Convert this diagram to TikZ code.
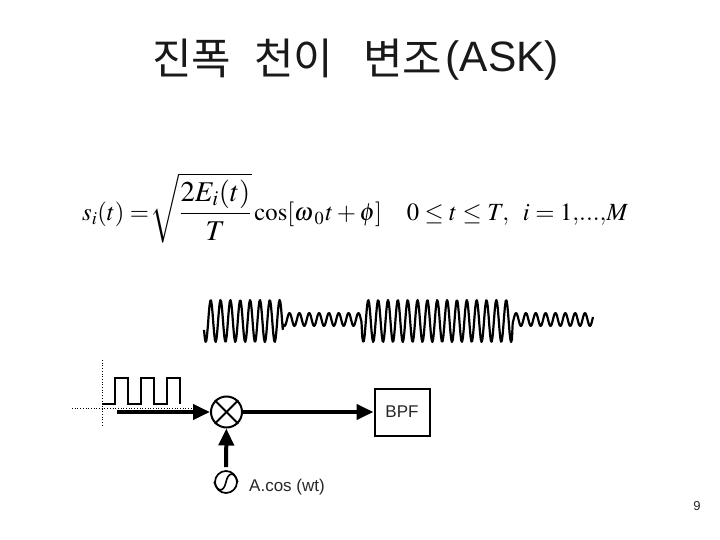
\documentclass[tikz,border=0pt]{standalone}
\usepackage{amsmath}
\usepackage{mathptmx}
\usepackage{fontspec}
\setmainfont{Liberation Sans}
\newfontfamily\cjk{Noto Sans CJK KR}
\usetikzlibrary{arrows.meta}
\begin{document}
\begin{tikzpicture}[
  x=1pt, y=-1pt,
  mixer/.style={circle, draw, line width=2pt, minimum size=31pt, inner sep=0pt},
  osc/.style={circle, draw, line width=1.7pt, minimum size=22pt, inner sep=0pt},
  filter/.style={rectangle, draw, line width=2pt, minimum width=55pt, minimum height=47pt, inner sep=0pt},
  link/.style={line width=4pt, -{Triangle[length=17pt, width=15pt]}},
  guide/.style={line width=0.7pt, dotted},
  label/.style={font=\fontsize{17}{20}\selectfont, text=black!85},
  wave/.style={line width=2.2pt, line join=round}
]
  \useasboundingbox (0,0) rectangle (720,540);
  \node[anchor=base west, inner sep=0pt, text=black!90] (title) at (152,75)
    {{\cjk\fontsize{43}{48}\selectfont 진폭\hspace{23pt}천이\hspace{30pt}변조}\hspace{3pt}\raisebox{3pt}{\fontsize{42.5}{48}\selectfont (ASK)}};
  % Signal formula
  \node[font=\fontsize{24.7}{28}\selectfont, anchor=west, inner sep=0pt] (formula) at (82,208)
    {$s_i(t)=\mkern-3mu\scalebox{1.16}{$\sqrt{\dfrac{2E_i(t)}{T}}$}\cos[\omega\mkern1mu_{0}\mkern1mu t+\phi]\quad 0\le t\le T,\;\; i=1{,}{.}{.}{.}{,}M$};
  % Modulated wave
  \draw[wave] plot[domain=204:593, samples=500]
    (\x, {((\x<283)||(\x>362 && \x<512)) ? 321-21*cos((\x-210.7)/9.85*360) : 319.5-6.5*cos((\x-210.7)/9.85*360)});
  % Baseband input
  \draw[guide] (72,408) -- (192,408);
  \draw[guide] (102,360) -- (102,427);
  \draw[line width=1.6pt] (102,404) -- (115,404) -- (115,378) -- (128,378) -- (128,404) -- (141,404) -- (141,378)
    -- (154,378) -- (154,404) -- (167,404) -- (167,378) -- (180,378) -- (180,404);
  \coordinate (in) at (117,412);
  \node[mixer] (mix) at (226.5,412) {};
  \draw[line width=2pt] (mix.north west) -- (mix.south east);
  \draw[line width=2pt] (mix.north east) -- (mix.south west);
  \node[filter, label] (bpf) at (402,412) {BPF};
  \node[osc] (lo) at (226,482) {};
  \draw[line width=1.6pt] (lo.west) .. controls (218.5,494) and (224,491) .. (lo.center)
    .. controls (228,473) and (233.5,470) .. (lo.east);
  \node[label, anchor=west, inner sep=0pt] (lotext) at (249,487) {A.cos (wt)};
  \node[font=\fontsize{13}{15}\selectfont, text=black!85] (page) at (697,506) {9};
  \draw[link] (in) -- (mix);
  \draw[link] (mix) -- (bpf);
  \draw[link, shorten <=3pt] (lo) -- (mix);
\end{tikzpicture}
\end{document}
